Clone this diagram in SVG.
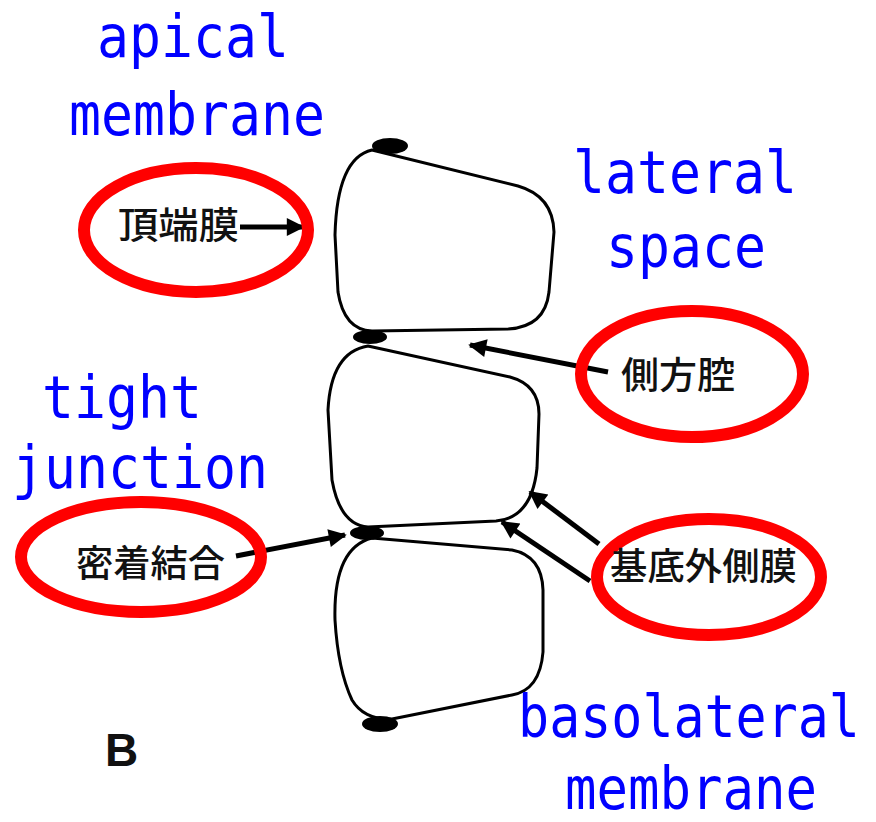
<svg xmlns="http://www.w3.org/2000/svg" width="876" height="822" viewBox="0 0 876 822">
  <defs>
    <marker id="head" viewBox="0 0 10 10" refX="9" refY="5" markerWidth="4" markerHeight="3.6" orient="auto" markerUnits="strokeWidth">
      <path d="M0,0 L10,5 L0,10 Z" fill="#000"/>
    </marker>
    <style>
      .en { font-family: "DejaVu Sans Mono", "Liberation Mono", monospace; font-size: 58px; fill: #0000ff; text-anchor: middle; }
      .jp { font-family: "Noto Sans CJK JP", "Noto Sans CJK SC", sans-serif; font-size: 37px; font-weight: 500; fill: #111; }
      .ring { fill: none; stroke: #ff0000; stroke-width: 12; }
      .cell { fill: #fff; stroke: #000; stroke-width: 3; stroke-linejoin: round; }
      .tj { fill: #000; }
      .arrow { fill: none; stroke: #000; stroke-width: 5; marker-end: url(#head); }
    </style>
  </defs>
  <rect width="876" height="822" fill="#fff"/>

  <!-- epithelial cells -->
  <g id="cell-top">
    <path class="cell" d="M372,150 L518,186 Q553,196 554,232 L549,292 Q545,327 508,329 L372,331 Q344,330 338,292 L335,235 Q337,158 372,150 Z"/>
    <ellipse class="tj" cx="390" cy="146" rx="18" ry="8"/>
  </g>
  <g id="cell-middle">
    <path class="cell" d="M368,346 L510,377 Q539,385 539,414 L537,468 Q532,518 496,521 L368,527 Q340,525 332,480 L328,410 Q331,352 368,346 Z"/>
    <ellipse class="tj" cx="370" cy="337" rx="17" ry="7"/>
  </g>
  <g id="cell-bottom">
    <path class="cell" d="M372,538 L512,550 Q542,556 543,590 L543,652 Q540,690 512,695 L392,719 Q364,720 352,700 Q338,670 335,620 Q333,548 372,538 Z"/>
    <ellipse class="tj" cx="367" cy="533" rx="17" ry="7"/>
    <ellipse class="tj" cx="380" cy="724" rx="18" ry="8"/>
  </g>

  <!-- pointer arrows -->
  <g id="connectors">
    <line class="arrow" x1="240" y1="227" x2="303" y2="227"/>
    <line class="arrow" x1="608" y1="372" x2="470" y2="345"/>
    <line class="arrow" x1="236" y1="556" x2="345" y2="535"/>
    <line class="arrow" x1="599" y1="544" x2="530" y2="492"/>
    <line class="arrow" x1="590" y1="581" x2="502" y2="522"/>
  </g>

  <!-- labels -->
  <g id="apical-membrane">
    <ellipse class="ring" cx="196" cy="230" rx="112" ry="62"/>
    <text class="jp" x="118" y="239" textLength="121" lengthAdjust="spacingAndGlyphs">頂端膜</text>
    <text class="en" x="193" y="57" textLength="192" lengthAdjust="spacingAndGlyphs">apical</text>
    <text class="en" x="197" y="135" textLength="256" lengthAdjust="spacingAndGlyphs">membrane</text>
  </g>
  <g id="lateral-space">
    <ellipse class="ring" cx="692" cy="374" rx="111" ry="63"/>
    <text class="jp" x="621" y="389" textLength="114" lengthAdjust="spacingAndGlyphs">側方腔</text>
    <text class="en" x="685" y="193" textLength="224" lengthAdjust="spacingAndGlyphs">lateral</text>
    <text class="en" x="686" y="267" textLength="160" lengthAdjust="spacingAndGlyphs">space</text>
  </g>
  <g id="tight-junction">
    <ellipse class="ring" cx="141" cy="557" rx="120" ry="55"/>
    <text class="jp" x="76" y="577" textLength="149" lengthAdjust="spacingAndGlyphs">密着結合</text>
    <text class="en" x="122" y="418" textLength="160" lengthAdjust="spacingAndGlyphs">tight</text>
    <text class="en" x="140" y="488" textLength="256" lengthAdjust="spacingAndGlyphs">junction</text>
  </g>
  <g id="basolateral-membrane">
    <ellipse class="ring" cx="709" cy="577" rx="112" ry="58"/>
    <text class="jp" x="610" y="580" textLength="187" lengthAdjust="spacingAndGlyphs">基底外側膜</text>
    <text class="en" x="0" y="0" font-size="54" transform="translate(689,737) scale(0.89,1)">basolateral</text>
    <text class="en" x="691" y="809" font-size="54" textLength="252" lengthAdjust="spacingAndGlyphs">membrane</text>
  </g>

  <text x="105" y="766" font-family="Liberation Sans, Arial, sans-serif" font-size="46" font-weight="700" fill="#111">B</text>
</svg>
